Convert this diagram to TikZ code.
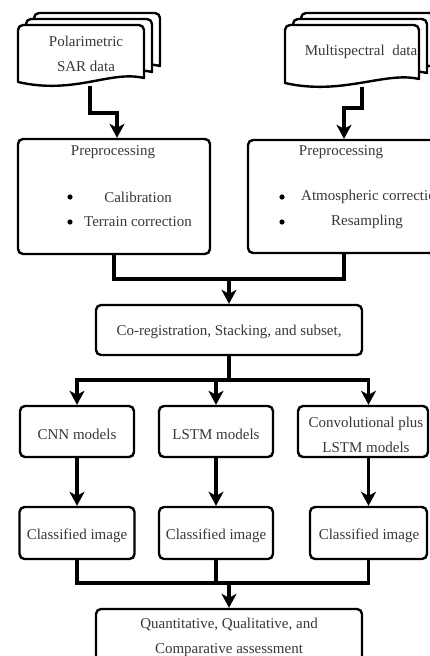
\documentclass[tikz,border=0pt]{standalone}
\usepackage{fontspec}
\setmainfont{Liberation Serif}
\usetikzlibrary{arrows.meta}
\definecolor{txt}{gray}{0.22}
\tikzset{
  box/.style={draw, line width=2.4pt, rounded corners=5pt, fill=white, inner sep=0pt},
  lbl/.style={text=txt, font=\fontsize{15}{25}\selectfont, align=center, inner sep=0pt},
  flow/.style={line width=3.6pt, -{Stealth[length=14pt,width=15pt,inset=4pt]}},
  link/.style={line width=3.6pt},
  docline/.style={line width=2.4pt, fill=white, line join=round},
}
\newcommand\docsheet[4]{%
  \draw[docline] (#1,#4) [rounded corners=5pt] -- (#1,#2) -- (#3,#2) [sharp corners] -- (#3,#4-4)
    .. controls (#3-34,#4-12) and (#1+57,#4+13) .. (#1,#4) -- cycle;}
\begin{document}
\begin{tikzpicture}[x=1pt,y=-1pt]
\useasboundingbox (0,0) rectangle (429,656);
\fill[white] (0,0) rectangle (429,656);
% input documents
\docsheet{34}{13}{160}{70}
\docsheet{26}{19}{152}{76}
\docsheet{18}{25}{144}{82}
\node[lbl] (doc1) at (86,53.5) {Polarimetric\\SAR data};
\docsheet{301}{13}{435}{71}
\docsheet{293}{19}{427}{77}
\docsheet{285}{25}{419}{83}
\node[lbl] (doc2) at (361,52) {Multispectral\ \ data};
\coordinate (d1b) at (90,86);
\coordinate (d2b) at (362,87);
% preprocessing boxes
\node[box, minimum width=192pt, minimum height=115pt] (pre1) at (114,196.5) {};
\node[lbl] (pre1t) at (113,152) {Preprocessing};
\fill (70,197) circle (2.6pt) (70,222) circle (2.6pt);
\node[lbl] (cal) at (138,197) {Calibration};
\node[lbl] (ter) at (138,222) {Terrain correction};
\node[box, minimum width=192pt, minimum height=113pt] (pre2) at (344,196.5) {};
\node[lbl] (pre2t) at (341,152) {Preprocessing};
\fill (282,197) circle (2.6pt) (282,222) circle (2.6pt);
\node[lbl, anchor=west] (atm) at (301,197) {Atmospheric correction};
\node[lbl] (res) at (367,222) {Resampling};
% co-registration
\node[box, minimum width=266pt, minimum height=50pt] (coreg) at (229,330) {};
\node[lbl] (coregt) at (229,332) {Co-registration, Stacking, and subset,};
% models
\node[box, minimum width=114pt, minimum height=51pt] (cnn) at (77,431.5) {};
\node[lbl] (cnnt) at (77,434) {CNN models};
\node[box, minimum width=114pt, minimum height=51pt] (lstm) at (216,431.5) {};
\node[lbl] (lstmt) at (216,434) {LSTM models};
\node[box, minimum width=130pt, minimum height=51pt] (conv) at (363,431.5) {};
\node[lbl] (convt) at (366,434.5) {Convolutional plus\\LSTM models};
% classified images
\node[box, minimum width=115pt, minimum height=52pt] (cl1) at (77,533) {};
\node[lbl] (cl1t) at (77,536) {Classified image};
\node[box, minimum width=114pt, minimum height=52pt] (cl2) at (216,533) {};
\node[lbl] (cl2t) at (216,536) {Classified image};
\node[box, minimum width=117pt, minimum height=52pt] (cl3) at (368.5,533) {};
\node[lbl] (cl3t) at (369,536) {Classified image};
% assessment
\node[box, minimum width=266pt, minimum height=59pt] (final) at (229,638.5) {};
\node[lbl] (finalt) at (229,637) {Quantitative, Qualitative, and\\Comparative assessment};
% connectors
\draw[flow] (d1b) -- ++(0,27) -| ([xshift=3pt]pre1.north);
\draw[flow] (d2b) -- ++(0,21) -| (pre2.north);
\coordinate (m1) at (229,279);
\draw[link] (pre1.south) |- (m1) -| (pre2.south);
\draw[flow] (m1) -- (coreg.north);
\coordinate (s1) at (229,380);
\draw[link] (coreg.south) -- (s1);
\draw[flow] (s1) -| (cnn.north);
\draw[flow] (s1) -| (conv.north -| cl3.north);
\draw[flow] (lstm.north |- s1) -- (lstm.north);
\draw[flow] (cnn.south) -- (cl1.north);
\draw[flow] (lstm.south) -- (cl2.north);
\draw[flow] (cl3.north |- conv.south) -- (cl3.north);
\coordinate (m2) at (229,583);
\draw[link] (cl1.south) |- (m2) -| (cl3.south);
\draw[link] (cl2.south) -- (cl2.south |- m2);
\draw[flow] (m2) -- (final.north);
\end{tikzpicture}
\end{document}
